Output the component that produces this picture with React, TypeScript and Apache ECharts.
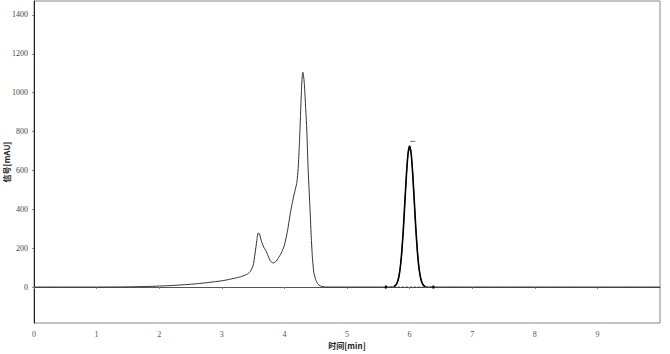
import React, { useEffect, useRef } from "react";
import * as echarts from "echarts";

// Retention time (min) and signal (mAU) of the chromatogram trace
const traceTime = [
  0, 0.5, 1.0, 1.5, 1.8, 2.0, 2.2, 2.4, 2.6, 2.8, 3.0, 3.1, 3.2, 3.3, 3.4, 3.45, 3.5, 3.53, 3.56, 3.58,
  3.6, 3.63, 3.67, 3.7, 3.74, 3.78, 3.82, 3.86, 3.9, 3.95, 4.0, 4.05, 4.1, 4.15, 4.18, 4.2, 4.22, 4.24,
  4.25, 4.27, 4.285, 4.295, 4.31, 4.32, 4.34, 4.356, 4.38, 4.41, 4.43, 4.45, 4.47, 4.5, 4.53, 4.57, 4.62,
  4.7, 5.0, 5.5, 5.7, 5.75, 5.775, 5.8, 5.825, 5.85, 5.875, 5.9, 5.925, 5.95, 5.975, 6.0, 6.025, 6.05,
  6.075, 6.1, 6.125, 6.15, 6.175, 6.2, 6.225, 6.25, 6.3, 6.5, 7.0, 8.0, 9.0, 10.0,
];
const traceSignal = [
  0, 0, 0, 1, 3, 5, 8, 12, 17, 24, 32, 38, 45, 53, 65, 78, 110, 170, 240, 278,
  275, 240, 205, 190, 160, 132, 124, 130, 148, 175, 215, 290, 390, 470, 510, 540, 610, 740,
  824, 990, 1090, 1105, 1075, 1040, 920, 824, 600, 396, 250, 140, 75, 38, 18, 6, 2,
  0, 0, 0, 0, 3, 8, 21, 48, 98, 181, 298, 440, 581, 686, 725, 686, 581,
  440, 298, 181, 98, 48, 21, 8, 3, 0, 0, 0, 0, 0, 0,
];

// Integrated peak (bold segment)
const peakTime = [5.75, 5.775, 5.8, 5.825, 5.85, 5.875, 5.9, 5.925, 5.95, 5.975, 6.0, 6.025, 6.05, 6.075, 6.1, 6.125, 6.15, 6.175, 6.2, 6.225, 6.25];
const peakSignal = [3, 8, 21, 48, 98, 181, 298, 440, 581, 686, 725, 686, 581, 440, 298, 181, 98, 48, 21, 8, 3];

// Integration baseline start/end
const baseTime = [5.62, 6.38];
const baseSignal = [0, 0];

// Peak label mark
const peakMarkTime = [6.05];
const peakMarkSignal = [750];

const xTicks = [0, 1, 2, 3, 4, 5, 6, 7, 8, 9];
const yTicks = [0, 200, 400, 600, 800, 1000, 1200, 1400];

export default function App() {
  const ref = useRef<HTMLDivElement>(null);
  useEffect(() => {
    if (!ref.current) return;
    const chart = echarts.init(ref.current, undefined, { renderer: "svg" });
    const serif = "'Liberation Serif', 'Times New Roman', serif";
    chart.setOption({
      animation: false,
      textStyle: { fontFamily: serif, color: "#444" },
      grid: {
        left: 34,
        right: 10,
        top: 1,
        bottom: 31,
        containLabel: false,
        outerBoundsMode: "none",
        show: true,
        borderColor: "#888",
        borderWidth: 1,
      },
      xAxis: {
        type: "value",
        min: 0,
        max: 10,
        name: "时间[min]",
        nameLocation: "middle",
        nameGap: 18,
        nameMoveOverlap: false,
        nameTextStyle: { fontFamily: "'Noto Sans CJK SC'", fontSize: 8, fontWeight: "bold", color: "#222" },
        axisLine: { show: true, lineStyle: { color: "#555", width: 1 } },
        axisTick: { show: true, length: 2, inside: false, customValues: xTicks, lineStyle: { color: "#888" } },
        axisLabel: {
          customValues: xTicks,
          formatter: (v: number) => String(v),
          fontFamily: serif,
          fontSize: 8,
          color: "#555",
          margin: 7,
        },
        splitLine: { show: false },
      },
      yAxis: {
        type: "value",
        min: -185,
        max: 1472,
        name: "信号[mAU]",
        nameLocation: "middle",
        nameGap: 24,
        nameRotate: 90,
        nameMoveOverlap: false,
        nameTextStyle: { fontFamily: "'Noto Sans CJK SC'", fontSize: 8, fontWeight: "bold", color: "#222" },
        axisLine: { show: true, lineStyle: { color: "#222", width: 1 } },
        axisTick: { show: true, length: 2, customValues: yTicks, lineStyle: { color: "#888" } },
        axisLabel: {
          customValues: yTicks,
          formatter: (v: number) => String(v),
          fontFamily: serif,
          fontSize: 8,
          color: "#444",
          margin: 6,
        },
        splitLine: { show: false },
      },
      series: [
        {
          type: "line",
          data: traceTime.map((t, i) => [t, traceSignal[i]]),
          showSymbol: false,
          smooth: 0.2,
          lineStyle: { color: "#333", width: 1 },
          z: 2,
        },
        {
          type: "line",
          data: peakTime.map((t, i) => [t, peakSignal[i]]),
          showSymbol: false,
          smooth: 0.2,
          lineStyle: { color: "#000", width: 1.6 },
          z: 3,
        },
        {
          type: "line",
          data: baseTime.map((t, i) => [t, baseSignal[i]]),
          showSymbol: true,
          symbol: "rect",
          symbolSize: [2, 3],
          itemStyle: { color: "#000" },
          lineStyle: { color: "#333", width: 1, type: [2, 2] },
          z: 4,
        },
        {
          type: "scatter",
          data: peakMarkTime.map((t, i) => [t, peakMarkSignal[i]]),
          symbol: "rect",
          symbolSize: [5, 1],
          itemStyle: { color: "#444" },
          z: 4,
        },
      ],
    });
    return () => chart.dispose();
  }, []);
  return <div ref={ref} style={{ width: 670, height: 354, position: "absolute", left: 0, top: 0 }} />;
}
